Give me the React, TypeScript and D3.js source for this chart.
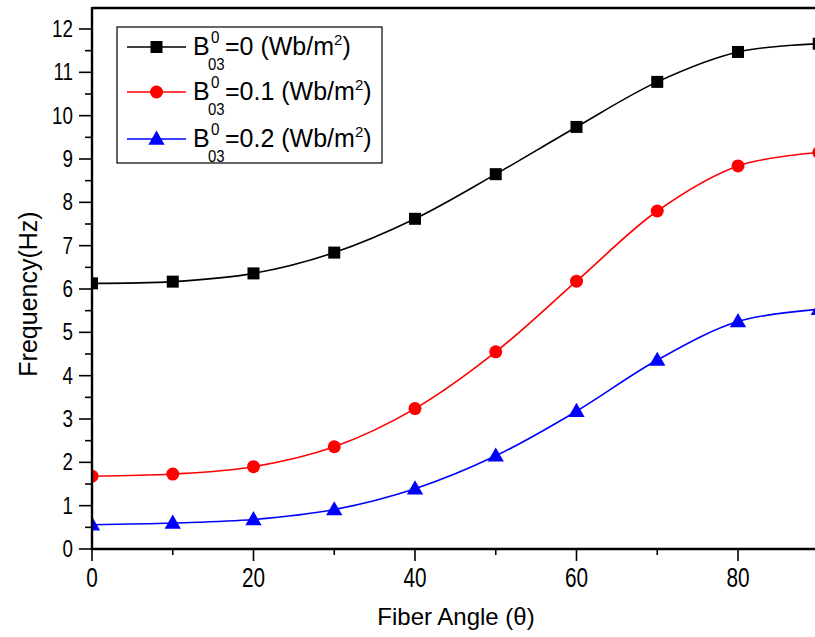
import React from "react";
import * as d3 from "d3";

const angles = [0, 10, 20, 30, 40, 50, 60, 70, 80, 90];
const seriesB0 = [6.13, 6.17, 6.36, 6.84, 7.62, 8.65, 9.74, 10.78, 11.47, 11.66];
const seriesB01 = [1.68, 1.73, 1.9, 2.36, 3.24, 4.55, 6.18, 7.8, 8.84, 9.15];
const seriesB02 = [0.56, 0.6, 0.68, 0.91, 1.39, 2.15, 3.18, 4.36, 5.25, 5.53];
const seriesLabels = ["=0 (Wb/m", "=0.1 (Wb/m", "=0.2 (Wb/m"];
const xTicks = [0, 20, 40, 60, 80];
const yTicks = [0, 1, 2, 3, 4, 5, 6, 7, 8, 9, 10, 11, 12];

const W = 815, H = 637;
const x = d3.scaleLinear().domain([0, 80]).range([92, 738]);
const y = d3.scaleLinear().domain([0, 12]).range([549, 29]);
const font = "Liberation Sans, Arial, sans-serif";

const series = [
  { values: seriesB0, color: "#000000", shape: "square" },
  { values: seriesB01, color: "#ff0000", shape: "circle" },
  { values: seriesB02, color: "#0000ff", shape: "triangle" },
];

function Marker({ cx, cy, shape, color }: { cx: number; cy: number; shape: string; color: string }) {
  if (shape === "square") return <rect x={cx - 6} y={cy - 6} width={12} height={12} fill={color} />;
  if (shape === "circle") return <circle cx={cx} cy={cy} r={6.5} fill={color} />;
  const p = d3.symbol().type(d3.symbolTriangle).size(115)();
  return <path d={p || ""} transform={`translate(${cx},${cy + 1})`} fill={color} />;
}

function CText({ x: tx, y: ty, anchor, size, sx, children }: any) {
  return (
    <text
      transform={`translate(${tx},${ty}) scale(${sx},1)`}
      textAnchor={anchor}
      fontFamily={font}
      fontSize={size}
    >
      {children}
    </text>
  );
}

export default function App() {
  const line = d3
    .line<number>()
    .x((_, i) => x(angles[i]))
    .y((d) => y(d))
    .curve(d3.curveCatmullRom.alpha(0.5));
  const minorY = d3.range(0.5, 12, 1);
  const minorX = [10, 30, 50, 70, 90];
  const legendRows = [47, 92, 139];
  return (
    <div style={{ position: "fixed", left: 0, top: 0 }}>
      <svg width={W} height={H} style={{ display: "block", background: "#fff" }}>
        <defs>
          <clipPath id="plot">
            <rect x={92} y={8} width={740} height={541} />
          </clipPath>
        </defs>
        <g clipPath="url(#plot)">
          {series.map((s, si) => (
            <g key={si}>
              <path d={line(s.values) || ""} fill="none" stroke={s.color} strokeWidth={1.6} />
              {s.values.map((v, i) => (
                <Marker key={i} cx={x(angles[i])} cy={y(v)} shape={s.shape} color={s.color} />
              ))}
            </g>
          ))}
        </g>
        {/* frame */}
        <line x1={92} x2={W} y1={8} y2={8} stroke="#000" strokeWidth={2.4} />
        <line x1={92} x2={92} y1={7} y2={550} stroke="#000" strokeWidth={2.4} />
        <line x1={91} x2={W} y1={549} y2={549} stroke="#000" strokeWidth={2.4} />
        {/* y ticks */}
        {yTicks.map((t) => (
          <g key={t}>
            <line x1={79} x2={92} y1={y(t)} y2={y(t)} stroke="#000" strokeWidth={1.6} />
            <CText x={73} y={y(t) + 8} anchor="end" size={23.5} sx={0.8}>
              {t}
            </CText>
          </g>
        ))}
        {minorY.map((t) => (
          <line key={t} x1={85} x2={92} y1={y(t)} y2={y(t)} stroke="#000" strokeWidth={1.6} />
        ))}
        {/* x ticks */}
        {xTicks.map((t) => (
          <g key={t}>
            <line x1={x(t)} x2={x(t)} y1={549} y2={561} stroke="#000" strokeWidth={1.6} />
            <CText x={x(t)} y={587} anchor="middle" size={27} sx={0.77}>
              {t}
            </CText>
          </g>
        ))}
        {minorX.map((t) => (
          <line key={t} x1={x(t)} x2={x(t)} y1={549} y2={555} stroke="#000" strokeWidth={1.6} />
        ))}
        {/* axis titles */}
        <text x={456} y={625} textAnchor="middle" fontFamily={font} fontSize={24}>
          Fiber Angle (θ)
        </text>
        <text
          transform="translate(37,294) rotate(-90)"
          textAnchor="middle"
          fontFamily={font}
          fontSize={25}
        >
          Frequency(Hz)
        </text>
        {/* legend */}
        <rect x={117} y={27} width={265} height={136} fill="#fff" stroke="#000" strokeWidth={1.2} />
        {series.map((s, i) => {
          const ly = legendRows[i];
          return (
            <g key={i}>
              <line x1={127} x2={186} y1={ly} y2={ly} stroke={s.color} strokeWidth={1.6} />
              <Marker cx={156.5} cy={ly} shape={s.shape} color={s.color} />
              <g transform={`translate(193,${ly + 8})`}>
                <text x={0} y={0} fontFamily={font} fontSize={25}>
                  B
                </text>
                <text transform="translate(18,-12) scale(0.95,1)" fontFamily={font} fontSize={16}>
                  0
                </text>
                <text transform="translate(15,15) scale(0.88,1)" fontFamily={font} fontSize={17}>
                  03
                </text>
                <text x={32} y={0} fontFamily={font} fontSize={25}>
                  {seriesLabels[i]}
                  <tspan dy={-10} fontSize={15}>2</tspan>
                  <tspan dy={10}>)</tspan>
                </text>
              </g>
            </g>
          );
        })}
      </svg>
    </div>
  );
}
